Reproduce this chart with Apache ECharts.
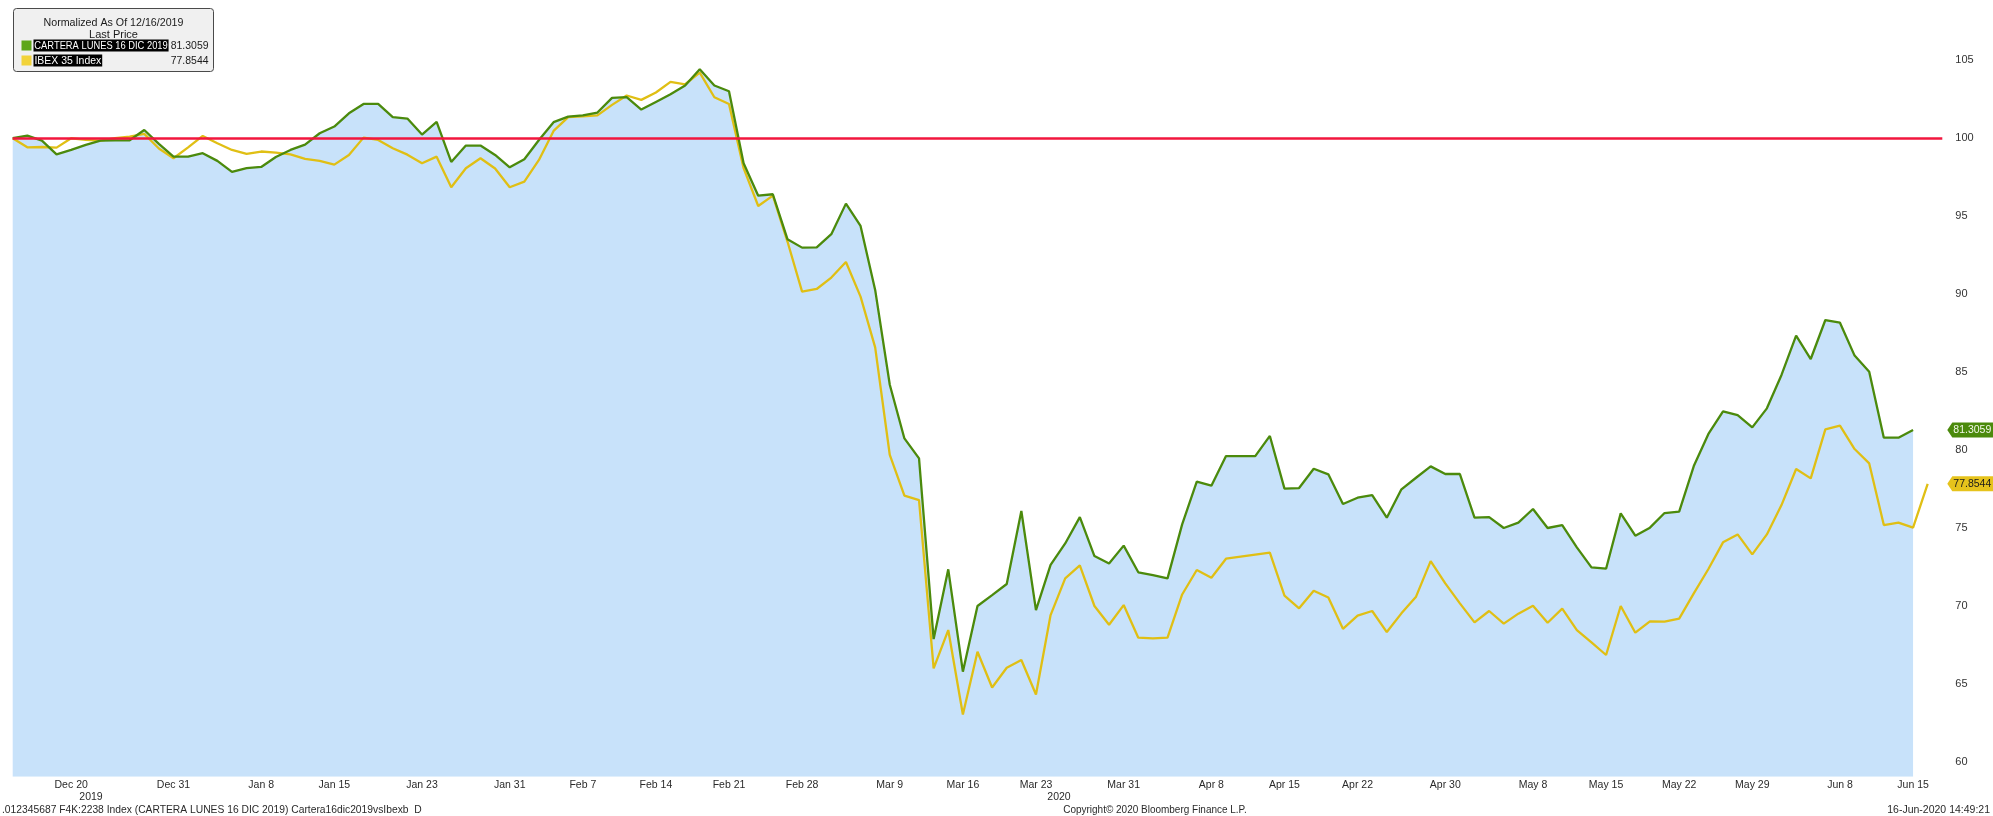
<!DOCTYPE html>
<html>
<head>
<meta charset="utf-8">
<style>
  html, body { margin: 0; padding: 0; background: #ffffff; }
  #chart { width: 1993px; height: 816px; }
</style>
<script src="https://cdn.jsdelivr.net/npm/echarts@6/dist/echarts.min.js"></script>
</head>
<body>
<div id="chart"></div>
<script>
// ---- categories: trading (week) days, Dec 16 2019 .. Jun 17 2020 ----
const categories = [
  'Dec 16','Dec 17','Dec 18','Dec 19','Dec 20','Dec 23','Dec 24','Dec 25','Dec 26','Dec 27','Dec 30','Dec 31',
  'Jan 1','Jan 2','Jan 3','Jan 6','Jan 7','Jan 8','Jan 9','Jan 10','Jan 13','Jan 14','Jan 15','Jan 16','Jan 17',
  'Jan 20','Jan 21','Jan 22','Jan 23','Jan 24','Jan 27','Jan 28','Jan 29','Jan 30','Jan 31',
  'Feb 3','Feb 4','Feb 5','Feb 6','Feb 7','Feb 10','Feb 11','Feb 12','Feb 13','Feb 14',
  'Feb 17','Feb 18','Feb 19','Feb 20','Feb 21','Feb 24','Feb 25','Feb 26','Feb 27','Feb 28',
  'Mar 2','Mar 3','Mar 4','Mar 5','Mar 6','Mar 9','Mar 10','Mar 11','Mar 12','Mar 13',
  'Mar 16','Mar 17','Mar 18','Mar 19','Mar 20','Mar 23','Mar 24','Mar 25','Mar 26','Mar 27','Mar 30','Mar 31',
  'Apr 1','Apr 2','Apr 3','Apr 6','Apr 7','Apr 8','Apr 9','Apr 10','Apr 13','Apr 14','Apr 15','Apr 16','Apr 17',
  'Apr 20','Apr 21','Apr 22','Apr 23','Apr 24','Apr 27','Apr 28','Apr 29','Apr 30',
  'May 1','May 4','May 5','May 6','May 7','May 8','May 11','May 12','May 13','May 14','May 15',
  'May 18','May 19','May 20','May 21','May 22','May 25','May 26','May 27','May 28','May 29',
  'Jun 1','Jun 2','Jun 3','Jun 4','Jun 5','Jun 8','Jun 9','Jun 10','Jun 11','Jun 12','Jun 15','Jun 16','Jun 17'
];

// ---- tick labels shown on the date axis ----
const tickLabels = ['Dec 20','Dec 31','Jan 8','Jan 15','Jan 23','Jan 31','Feb 7','Feb 14','Feb 21','Feb 28',
  'Mar 9','Mar 16','Mar 23','Mar 31','Apr 8','Apr 15','Apr 22','Apr 30','May 8','May 15','May 22','May 29','Jun 8','Jun 15'];
const yTickLabels = [60, 65, 70, 75, 80, 85, 90, 95, 100, 105];

// ---- series values (normalized, 12/16/2019 = 100) ----
const cartera = [
  100.0,100.17,99.85,98.97,99.25,99.57,99.85,99.87,99.87,100.53,99.64,98.82,
  98.82,99.04,98.55,97.84,98.08,98.16,98.80,99.25,99.59,100.32,100.75,101.60,102.20,
  102.20,101.35,101.26,100.24,101.05,98.48,99.53,99.53,98.93,98.14,
  98.65,99.89,101.03,101.39,101.47,101.65,102.59,102.63,101.84,102.33,
  102.82,103.38,104.42,103.38,103.01,98.40,96.32,96.41,93.53,92.99,
  93.01,93.85,95.81,94.38,90.28,84.20,80.76,79.48,67.90,72.37,
  65.81,70.02,70.72,71.43,76.11,69.76,72.65,74.03,75.72,73.22,72.75,73.89,
  72.18,72.00,71.79,75.25,77.99,77.73,79.63,79.63,79.63,80.92,77.54,77.58,78.82,
  78.46,76.56,76.96,77.13,75.68,77.50,78.24,78.97,78.48,
  78.48,75.68,75.72,75.02,75.36,76.24,75.02,75.21,73.78,72.50,72.41,
  75.96,74.53,75.04,75.98,76.07,78.99,81.05,82.50,82.26,81.47,
  82.69,84.83,87.35,85.85,88.35,88.18,86.07,85.04,80.81,80.81,81.3059,null,null
];
const ibex = [
  100.0,99.42,99.44,99.40,100.0,99.89,99.85,100.0,100.11,100.28,99.34,98.72,
  99.42,100.15,99.68,99.25,99.00,99.15,99.08,98.97,98.68,98.55,98.31,98.93,100.04,
  99.89,99.36,98.95,98.40,98.82,96.86,98.08,98.72,98.06,96.86,
  97.22,98.61,100.47,101.35,101.41,101.47,102.14,102.74,102.46,102.93,
  103.61,103.46,104.21,102.63,102.20,98.08,95.66,96.32,93.38,90.17,
  90.34,91.07,92.07,89.85,86.60,79.70,77.09,76.81,66.02,68.48,
  63.07,67.09,64.80,66.06,66.56,64.35,69.44,71.79,72.62,70.02,68.82,70.08,
  67.99,67.94,67.99,70.76,72.33,71.83,73.05,73.18,73.31,73.44,70.68,69.87,71.00,
  70.57,68.56,69.40,69.70,68.35,69.55,70.62,72.90,71.47,
  70.19,68.97,69.70,68.89,69.53,70.04,68.95,69.85,68.48,67.69,66.88,
  70.02,68.31,69.04,69.02,69.21,70.83,72.39,74.10,74.61,73.33,
  74.61,76.49,78.80,78.20,81.34,81.58,80.08,79.16,75.21,75.36,75.04,77.8544,null
];
const lastCartera = '81.3059';
const lastIbex = '77.8544';
const baseLevel = 100;

const nameCartera = 'CARTERA LUNES 16 DIC 2019';
const nameIbex = 'IBEX 35 Index';

const FONT = "'Liberation Sans', Arial, sans-serif";
const GREEN = '#4b8a0c';
const YELLOW = '#e0bf14';
const FILL = '#c8e2fa';
const TXT = '#2a2a2a';

const chart = echarts.init(document.getElementById('chart'), null, { renderer: 'canvas' });

const tagPath = 'path://M0,7.5 L5,0 L46,0 L46,15 L5,15 Z';

function txt(x, y, text, size, align, sx, extra) {
  return {
    type: 'text', x: x, y: y, z: 50, scaleX: sx || 1,
    style: Object.assign({ text: text, fill: TXT, font: size + 'px ' + FONT, align: align, verticalAlign: 'middle' }, extra || {})
  };
}

const option = {
  animation: false,
  backgroundColor: '#ffffff',
  grid: {
    left: 12.7, right: 50.7, top: 10, bottom: 39.3,
    containLabel: false, outerBoundsMode: 'none'
  },
  xAxis: {
    type: 'category',
    data: categories,
    boundaryGap: false,
    axisLine: { show: false },
    axisTick: { show: false },
    splitLine: { show: false },
    axisLabel: {
      interval: function (idx, val) { return tickLabels.indexOf(val) >= 0; },
      hideOverlap: false,
      margin: 3,
      color: TXT,
      fontSize: 10.5,
      fontFamily: FONT
    }
  },
  yAxis: {
    type: 'value',
    position: 'right',
    min: 59.08,
    max: 108.22,
    axisLine: { show: false },
    axisTick: { show: false },
    splitLine: { show: false },
    axisLabel: {
      customValues: yTickLabels,
      margin: 13,
      color: '#333333',
      fontSize: 11,
      fontFamily: FONT
    }
  },
  series: [
    {
      name: 'fill',
      type: 'line',
      data: cartera,
      symbol: 'none',
      silent: true,
      lineStyle: { width: 0, opacity: 0 },
      areaStyle: { color: FILL, opacity: 1 },
      z: 1
    },
    {
      name: nameIbex,
      type: 'line',
      data: ibex,
      symbol: 'none',
      lineStyle: { color: YELLOW, width: 2.3 },
      z: 3,
      markPoint: {
        silent: true,
        symbol: tagPath,
        symbolSize: [46, 15],
        symbolKeepAspect: false,
        symbolOffset: [28, 0],
        itemStyle: { color: '#e6c31c' },
        label: {
          show: true, position: 'inside', offset: [2, 0],
          color: '#1a1a1a', fontSize: 10.5, fontFamily: FONT,
          formatter: function (p) { return p.name; }
        },
        data: [{ name: lastIbex, coord: [categories[categories.length - 1], Number(lastIbex)] }]
      }
    },
    {
      name: nameCartera,
      type: 'line',
      data: cartera,
      symbol: 'none',
      lineStyle: { color: GREEN, width: 2.3 },
      z: 4,
      markLine: {
        silent: true,
        symbol: ['none', 'none'],
        label: { show: false },
        lineStyle: { color: '#f2163e', width: 2.5, type: 'solid' },
        data: [{ yAxis: baseLevel }]
      },
      markPoint: {
        silent: true,
        symbol: tagPath,
        symbolSize: [46, 15],
        symbolKeepAspect: false,
        symbolOffset: [28, 0],
        itemStyle: { color: GREEN },
        label: {
          show: true, position: 'inside', offset: [2, 0],
          color: '#f2f8ea', fontSize: 10.5, fontFamily: FONT,
          formatter: function (p) { return p.name; }
        },
        data: [{ name: lastCartera, coord: [categories[categories.length - 1], Number(lastCartera)] }]
      }
    }
  ],
  graphic: [
    // legend box
    {
      type: 'group', left: 13, top: 8, z: 100,
      children: [
        { type: 'rect', shape: { x: 0, y: 0, width: 200, height: 63, r: 3 },
          style: { fill: '#f0f0f0', stroke: '#4a4a4a', lineWidth: 1 } },
        txt(100, 14, 'Normalized As Of 12/16/2019', 11, 'center', 0.97, { fill: '#1a1a1a' }),
        txt(100, 26, 'Last Price', 11, 'center', 1, { fill: '#1a1a1a' }),
        { type: 'rect', shape: { x: 8, y: 32, width: 10, height: 10 }, style: { fill: '#5ea61a' } },
        txt(20, 37, nameCartera, 11, 'left', 0.85, { fill: '#ffffff', backgroundColor: '#000000', padding: [1, 1, 0, 1] }),
        txt(195, 37, lastCartera, 11, 'right', 0.95, { fill: '#1a1a1a' }),
        { type: 'rect', shape: { x: 8, y: 47, width: 10, height: 10 }, style: { fill: '#f2d33a' } },
        txt(20, 52, nameIbex, 11, 'left', 0.95, { fill: '#ffffff', backgroundColor: '#000000', padding: [1, 1, 0, 1] }),
        txt(195, 52, lastIbex, 11, 'right', 0.95, { fill: '#1a1a1a' })
      ]
    },
    // year labels
    txt(91, 797, '2019', 10.5, 'center', 1),
    txt(1059, 797, '2020', 10.5, 'center', 1),
    // footer
    txt(2, 810, '.012345687 F4K:2238 Index (CARTERA LUNES 16 DIC 2019) Cartera16dic2019vsIbexb  D', 10.5, 'left', 0.98),
    txt(1155, 810, 'Copyright\u00A9 2020 Bloomberg Finance L.P.', 10.5, 'center', 0.95),
    txt(1990, 810, '16-Jun-2020 14:49:21', 10.5, 'right', 1)
  ]
};

chart.setOption(option);
</script>
</body>
</html>
